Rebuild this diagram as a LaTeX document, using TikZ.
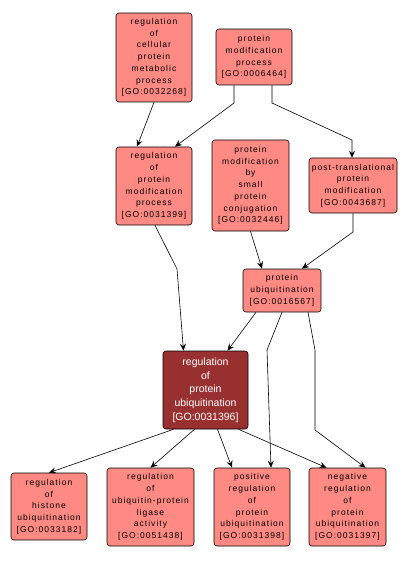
\documentclass[tikz,border=0pt]{standalone}
\usepackage{fontspec}
\setmainfont{Liberation Sans}
\usetikzlibrary{arrows.meta}
\definecolor{goLight}{HTML}{FF8A84}
\definecolor{goDark}{HTML}{983030}
\newfontfamily\gofont[LetterSpace=12]{Liberation Sans}
\tikzset{
  gobox/.style={draw=black, fill=goLight, rounded corners=3pt, line width=0.6pt,
    align=center, inner sep=0pt, font=\gofont\fontsize{8.5}{11.7}\selectfont},
  godark/.style={draw=black, fill=goDark, rounded corners=3pt, line width=0.6pt,
    align=center, inner sep=0pt, text=white, font=\fontsize{10.5}{13.7}\selectfont},
  link/.style={draw=black, line width=0.6pt, -{Stealth[length=7pt,width=6pt,inset=2.5pt]}}
}
\begin{document}
\begin{tikzpicture}[x=1pt,y=-1pt]
\useasboundingbox (0,0) rectangle (408,561);
\node[gobox, minimum width=76pt, minimum height=89pt] (A) at (154,57.5)
  {regulation\\of\\cellular\\protein\\metabolic\\process\\{[GO:0032268]}};
\node[gobox, minimum width=76pt, minimum height=56pt] (B) at (254,57)
  {protein\\modification\\process\\{[GO:0006464]}};
\node[gobox, minimum width=76pt, minimum height=78pt] (C) at (154,186)
  {regulation\\of\\protein\\modification\\process\\{[GO:0031399]}};
\node[gobox, minimum width=77pt, minimum height=91pt] (D) at (250.5,185.5)
  {protein\\modification\\by\\small\\protein\\conjugation\\{[GO:0032446]}};
\node[gobox, minimum width=88pt, minimum height=55pt] (E) at (353,185.5)
  {post-translational\\protein\\modification\\{[GO:0043687]}};
\node[gobox, minimum width=78pt, minimum height=43pt] (F) at (282,290.5)
  {protein\\ubiquitination\\{[GO:0016567]}};
\node[godark, minimum width=85pt, minimum height=78pt] (G) at (205.5,390)
  {regulation\\of\\protein\\ubiquitination\\{[GO:0031396]}};
\node[gobox, minimum width=76pt, minimum height=67pt] (H) at (49,506.5)
  {regulation\\of\\histone\\ubiquitination\\{[GO:0033182]}};
\node[gobox, minimum width=87pt, minimum height=78pt] (I) at (150.5,507)
  {regulation\\of\\ubiquitin-protein\\ligase\\activity\\{[GO:0051438]}};
\node[gobox, minimum width=76pt, minimum height=78pt] (J) at (252,507)
  {positive\\regulation\\of\\protein\\ubiquitination\\{[GO:0031398]}};
\node[gobox, minimum width=77pt, minimum height=78pt] (K) at (347.5,507)
  {negative\\regulation\\of\\protein\\ubiquitination\\{[GO:0031397]}};
% waypoints
\coordinate (bc1) at (234,103);
\coordinate (be1) at (272,103);
\coordinate (be2) at (352,140);
\coordinate (cg1) at (177,269);
\coordinate (ef1) at (353,232);
\coordinate (fj1) at (267,350);
\coordinate (fk1) at (315,350);
\coordinate (fk2) at (315,430);
% edges
\draw[link] (A.south) -- ([xshift=-17pt]C.north);
\draw[link] ([xshift=-20pt]B.south) -- (bc1) -- ([xshift=21pt]C.north);
\draw[link] ([xshift=18pt]B.south) -- (be1) -- (be2) -- ([xshift=-1pt]E.north);
\draw[link] ([xshift=1pt]C.south) -- (cg1) -- ([xshift=-22pt]G.north);
\draw[link] (D.south) -- ([xshift=-20pt]F.north);
\draw[link] (E.south) -- (ef1) -- ([xshift=20pt]F.north);
\draw[link] ([xshift=-26pt]F.south) -- ([xshift=22pt]G.north);
\draw[link] (F.south) -- (fj1) -- ([xshift=19pt]J.north);
\draw[link] ([xshift=26pt]F.south) -- (fk1) -- (fk2) -- ([xshift=18pt]K.north);
\draw[link] ([xshift=-32pt]G.south) -- (H.north);
\draw[link] ([xshift=-11pt]G.south) -- (I.north);
\draw[link] ([xshift=12pt]G.south) -- ([xshift=-20pt]J.north);
\draw[link] ([xshift=33pt]G.south) -- ([xshift=-21pt]K.north);
\end{tikzpicture}
\end{document}
